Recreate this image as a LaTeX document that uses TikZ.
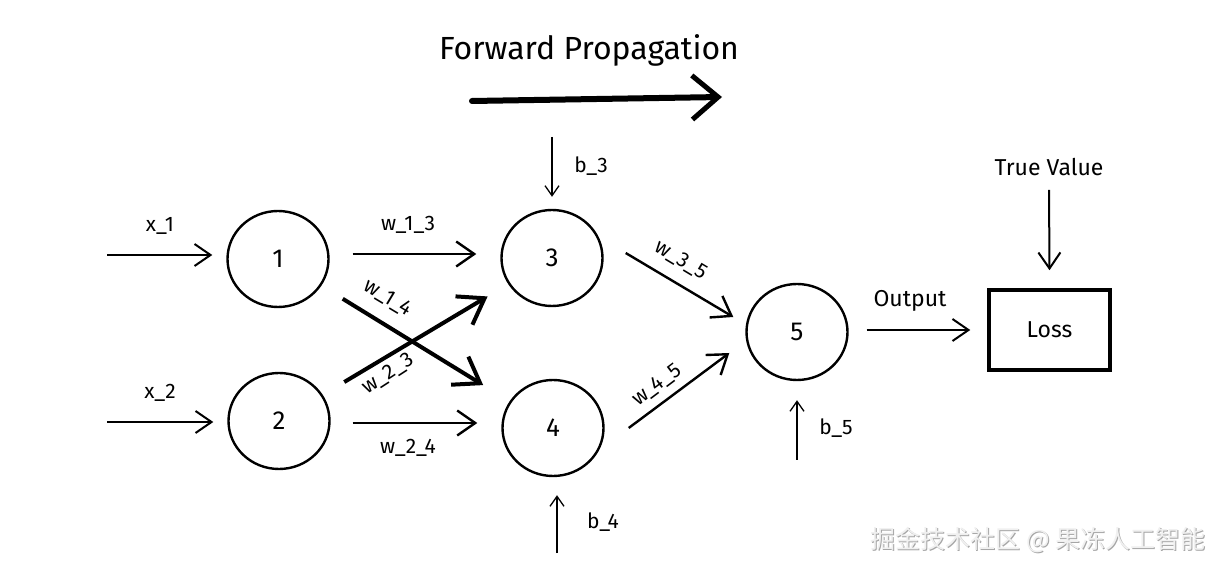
\documentclass[tikz,border=0pt]{standalone}
\usepackage{fontspec}
\setmainfont{Fira Sans}
\newfontfamily\cjk{Noto Sans CJK SC}
\usetikzlibrary{arrows.meta,shapes.geometric,calc}
\begin{document}
\begin{tikzpicture}[x=1pt,y=1pt,
  neuron/.style={ellipse,draw,line width=2.4pt,minimum width=101pt,minimum height=96pt,inner sep=0pt,font=\fontsize{26}{28}\selectfont},
  lbl/.style={font=\fontsize{21}{23}\selectfont,inner sep=0pt},
  biglbl/.style={font=\fontsize{23}{25}\selectfont,inner sep=0pt},
  inarrow/.style={line width=2pt,-{Straight Barb[length=16pt,width=22pt,line width=2pt]}},
  warrow/.style={line width=2.4pt,-{Straight Barb[length=18pt,width=25pt,line width=2.4pt]}},
  crossarrow/.style={line width=4pt,-{Straight Barb[length=24pt,width=33pt,line width=4pt]}},
  biasarrow/.style={line width=1.3pt,-{Straight Barb[length=10pt,width=14pt,line width=1.3pt]}},
  lossbox/.style={draw,line width=3.5pt,minimum width=121pt,minimum height=80pt,inner sep=0pt,font=\fontsize{23}{25}\selectfont}
]
\useasboundingbox (0,0) rectangle (1225,570);
\fill[white] (0,0) rectangle (1225,570);

% title
\node[font=\fontsize{32}{36}\selectfont,inner sep=0pt] (title) at (589,520) {Forward Propagation};
\coordinate (ts) at (472,469);
\coordinate (te) at (722,473);
\draw[line width=6pt,line cap=round,-{Straight Barb[length=26pt,width=44pt,line width=5pt]}] (ts) -- (te);

% neurons
\node[neuron] (n1) at (278,311) {1};
\node[neuron] (n2) at (279,149) {2};
\node[neuron] (n3) at (552,312) {3};
\node[neuron] (n4) at (553,142) {4};
\node[neuron] (n5) at (797,238) {5};
\node[lossbox] (loss) at (1049.5,240) {Loss};

% inputs
\coordinate (in1) at (107,315);
\coordinate (in2) at (107,148);
\node[lbl] (x1) at (160,344) {x\_1};
\node[lbl] (x2) at (160,177) {x\_2};
\draw[inarrow] (in1) -- ($(n1.west)+(-14,4)$);
\draw[inarrow] (in2) -- ($(n2.west)+(-14,-1)$);

% weights layer 1
\draw[warrow] ($(n1.east)+(23,5)$) -- ($(n3.west)+(-24,4)$);
\node[lbl] (w13) at (408,345) {w\_1\_3};
\draw[warrow] ($(n2.east)+(22,-2)$) -- ($(n4.west)+(-24,5)$);
\node[lbl] (w24) at (408,122) {w\_2\_4};
\draw[crossarrow,shorten <=25pt,shorten >=31pt] (n1) -- (n4);
\draw[crossarrow,shorten <=25pt,shorten >=24pt] (n2) -- (n3);
\node[lbl,rotate=-31] (w14) at (388,272) {w\_1\_4};
\node[lbl,rotate=33] (w23) at (388,196) {w\_2\_3};

% weights layer 2
\draw[warrow] ($(n3.east)+(22,5)$) -- ($(n5.west)+(-12,15)$);
\node[lbl,rotate=-31] (w35) at (681,310) {w\_3\_5};
\draw[warrow] ($(n4.east)+(24,0)$) -- ($(n5.west)+(-16,-21)$);
\node[lbl,rotate=37] (w45) at (657,185) {w\_4\_5};

% biases
\coordinate (b3s) at (552,433);
\draw[biasarrow] (b3s) -- ($(n3.north)+(0,12)$);
\node[lbl] (b3) at (591,404) {b\_3};
\coordinate (b4s) at (557,17);
\draw[biasarrow] (b4s) -- ($(n4.south)+(4,-18)$);
\node[lbl] (b4) at (603,48) {b\_4};
\coordinate (b5s) at (797,110);
\draw[biasarrow] (b5s) -- ($(n5.south)+(0,-19)$);
\node[lbl] (b5) at (836,142) {b\_5};

% output and loss
\draw[inarrow] ($(n5.east)+(18,2)$) -- ($(loss.west)+(-17,0)$);
\node[biglbl] (out) at (910,269) {Output};
\node[biglbl] (tv) at (1049,403) {True Value};
\draw[inarrow] ($(tv.south)+(0,-14)$) -- ($(loss.north)+(0,18)$);

% watermark
\node[font=\cjk\fontsize{25}{27}\selectfont,text=gray!70,inner sep=0pt] at (1039.2,28.8) {掘金技术社区 @ 果冻人工智能};
\node[font=\cjk\fontsize{25}{27}\selectfont,text=gray!12,inner sep=0pt] (wm) at (1038,30) {掘金技术社区 @ 果冻人工智能};
\end{tikzpicture}
\end{document}
